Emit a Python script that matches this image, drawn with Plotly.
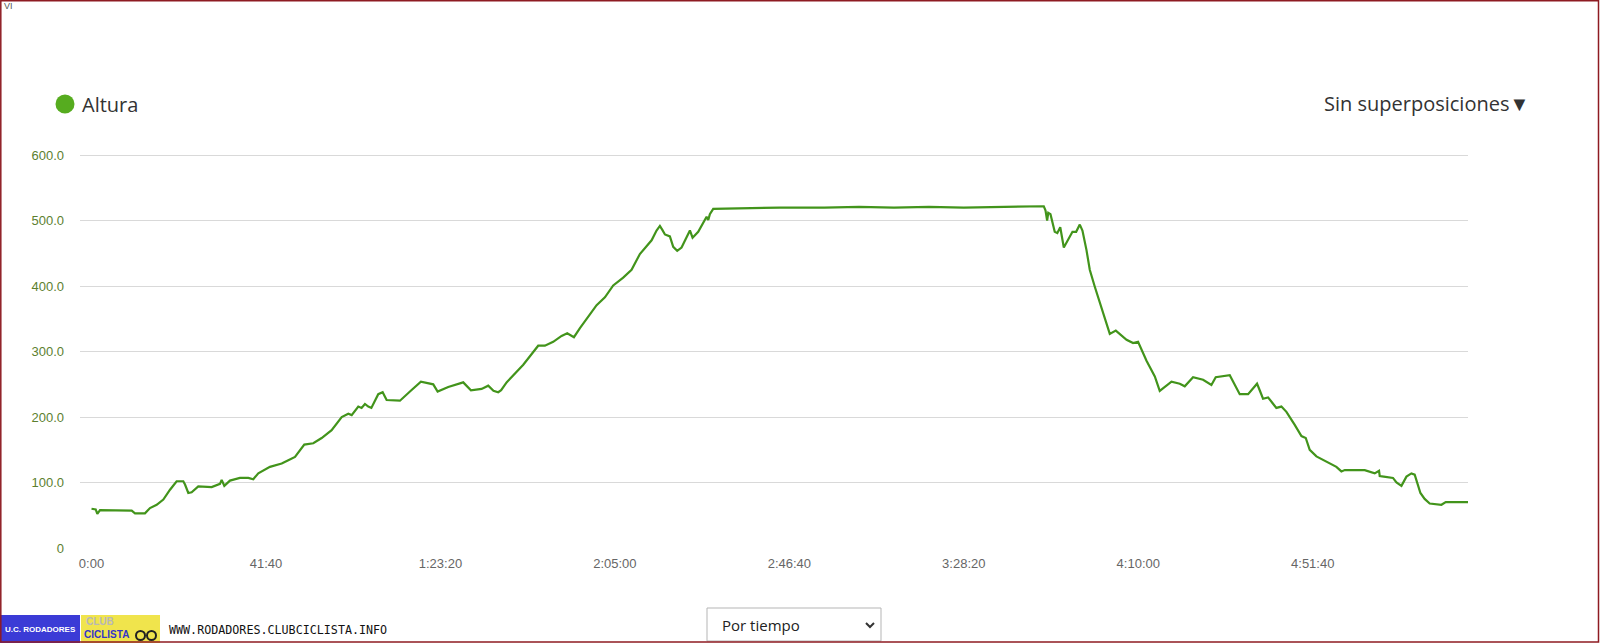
import plotly.graph_objects as go

# elevation profile (time in seconds, altitude in metres)
time_s = [0, 60, 83, 122, 576, 623, 766, 838, 934, 1029, 1125, 1220, 1315, 1340, 1387, 1435,
          1530, 1722, 1841, 1865, 1903, 1984, 2127, 2247, 2318, 2390, 2557, 2725, 2820, 2916,
          3049, 3178, 3298, 3441, 3585, 3680, 3728, 3823, 3870, 3918, 3966, 4010, 4109, 4172,
          4229, 4420, 4563, 4720, 4897, 4960, 5112, 5327, 5437, 5590, 5685, 5760, 5828, 5870,
          5948, 6187, 6401, 6497, 6616, 6736, 6817, 6913, 6999, 7142, 7238, 7357, 7476, 7619,
          7739, 7858, 7930, 8026, 8097, 8145, 8180, 8217, 8288, 8336, 8393, 8455, 8575, 8613,
          8694, 8814, 8838, 8861, 8909, 9338, 9864, 10500, 11000, 11500, 12000, 12500, 13000,
          13200, 13445, 13646, 13670, 13694, 13710, 13742, 13803, 13840, 13882, 13933, 14057,
          14110, 14162, 14200, 14258, 14305, 14377, 14473, 14592, 14678, 14760, 14832, 14926,
          14997, 15118, 15237, 15308, 15345, 15476, 15595, 15666, 15785, 15929, 16048, 16110,
          16311, 16382, 16454, 16574, 16702, 16740, 16788, 16860, 16932, 16979, 17051, 17123,
          17242, 17338, 17400, 17457, 17553, 17696, 17839, 17911, 17959, 18245, 18388, 18450,
          18460, 18518, 18650, 18700, 18771, 18843, 18914, 18961, 19043, 19104, 19176, 19344,
          19406, 19725]
altura = [60, 59, 52, 58, 57, 53, 53, 61, 66, 74, 89, 102, 102, 97, 84, 85,
          94, 93, 98, 104, 95, 103, 107, 107, 105, 114, 124, 129, 134, 139,
          158, 160, 168, 180, 200, 205, 203, 216, 214, 220, 216, 214, 235, 238,
          226, 225, 239, 254, 250, 239, 246, 253, 241, 243, 248, 240, 238, 241,
          253, 280, 309, 309, 315, 324, 328, 322, 336, 358, 371, 383, 401, 413,
          425, 449, 458, 470, 485, 492, 486, 479, 476, 460, 454, 459, 485, 474,
          483, 506, 501, 510, 518, 519, 520, 520, 521, 520, 521, 520, 521,
          522, 522, 522, 516, 500, 512, 510, 483, 481, 490, 459, 483,
          483, 494, 485, 455, 425, 399, 366, 327, 332, 324, 318, 313,
          315, 286, 262, 240, 243, 254, 251, 247, 261, 257, 249, 261,
          264, 249, 235, 235, 251, 241, 228, 230, 220, 214, 216, 208,
          188, 171, 168, 150, 140, 132, 124, 117, 119, 119, 114, 118,
          110, 109, 107, 100, 95, 109, 114, 112, 84, 75, 68, 66,
          70, 70]

x_tickvals = [0, 2500, 5000, 7500, 10000, 12500, 15000, 17500]
x_ticktext = ["0:00", "41:40", "1:23:20", "2:05:00", "2:46:40", "3:28:20", "4:10:00", "4:51:40"]
y_tickvals = [0, 100, 200, 300, 400, 500, 600]
y_ticktext = ["0", "100.0", "200.0", "300.0", "400.0", "500.0", "600.0"]

# plot area in pixels: x 80..1468, y 152..548
def px(x):
    return (x - 80) / 1388

def py(y):
    return (548 - y) / 396

fig = go.Figure()
fig.add_trace(go.Scatter(
    x=time_s, y=altura, mode="lines",
    line=dict(color="#42941b", width=2.2),
    name="Altura", showlegend=False
))

shapes = [
    # legend dot
    dict(type="circle", xref="paper", yref="paper",
         x0=px(55.5), x1=px(74.5), y0=py(113.5), y1=py(94.5),
         fillcolor="#56ac1f", line=dict(width=0)),
    # dropdown box
    dict(type="rect", xref="paper", yref="paper",
         x0=px(707), x1=px(881), y0=py(641), y1=py(608),
         line=dict(color="#b5b5b5", width=1), fillcolor="white"),
    dict(type="path", xref="paper", yref="paper",
         path="M %f %f L %f %f L %f %f" % (px(866), py(623), px(870), py(627), px(874), py(623)),
         line=dict(color="#333333", width=2)),
    # logo boxes
    dict(type="rect", xref="paper", yref="paper",
         x0=px(0), x1=px(80), y0=py(643), y1=py(615),
         fillcolor="#3b3bd6", line=dict(width=0)),
    dict(type="rect", xref="paper", yref="paper",
         x0=px(81), x1=px(160), y0=py(643), y1=py(615),
         fillcolor="#f0e44c", line=dict(width=0)),
    dict(type="circle", xref="paper", yref="paper",
         x0=px(136), x1=px(145), y0=py(640), y1=py(631),
         line=dict(color="#222222", width=2)),
    dict(type="circle", xref="paper", yref="paper",
         x0=px(147), x1=px(156), y0=py(640), y1=py(631),
         line=dict(color="#222222", width=2)),
    # outer border
    dict(type="rect", xref="paper", yref="paper",
         x0=px(0.8), x1=px(1598.5), y0=py(642), y1=py(0.8),
         line=dict(color="#8e1b22", width=1.5)),
]

annotations = [
    dict(text="Altura", x=px(80), y=py(104), xref="paper", yref="paper",
         xanchor="left", yanchor="middle", showarrow=False,
         font=dict(family="Open Sans", size=20, color="#333333")),
    dict(text="Sin superposiciones▼", x=px(1531), y=py(103), xref="paper", yref="paper",
         xanchor="right", yanchor="middle", showarrow=False,
         font=dict(family="Open Sans", size=20, color="#333333")),
    dict(text="VI", x=px(2), y=py(6), xref="paper", yref="paper",
         xanchor="left", yanchor="middle", showarrow=False,
         font=dict(family="Liberation Sans", size=9, color="#555555")),
    dict(text="Por tiempo", x=px(720), y=py(625), xref="paper", yref="paper",
         xanchor="left", yanchor="middle", showarrow=False,
         font=dict(family="Open Sans", size=15, color="#222222")),
    dict(text="<b>U.C. RODADORES</b>", x=px(40), y=py(629), xref="paper", yref="paper",
         xanchor="center", yanchor="middle", showarrow=False,
         font=dict(family="Liberation Sans", size=8, color="white")),
    dict(text="<b>CLUB</b>", x=px(84), y=py(621), xref="paper", yref="paper",
         xanchor="left", yanchor="middle", showarrow=False,
         font=dict(family="Liberation Sans", size=10, color="#b8b8b8")),
    dict(text="<b>CICLISTA</b>", x=px(82), y=py(634), xref="paper", yref="paper",
         xanchor="left", yanchor="middle", showarrow=False,
         font=dict(family="Liberation Sans", size=10, color="#3434c8")),
    dict(text="WWW.RODADORES.CLUBCICLISTA.INFO", x=px(167), y=py(630), xref="paper", yref="paper",
         xanchor="left", yanchor="middle", showarrow=False,
         font=dict(family="DejaVu Sans Mono", size=11.7, color="#111111")),
]

fig.update_layout(
    width=1600, height=643, autosize=False,
    margin=dict(l=80, r=132, t=152, b=95),
    paper_bgcolor="white", plot_bgcolor="white",
    showlegend=False,
    shapes=shapes,
    annotations=annotations,
    xaxis=dict(
        range=[-165, 19725],
        tickvals=x_tickvals, ticktext=x_ticktext,
        showgrid=False, zeroline=False, showline=False,
        ticklabelstandoff=6,
        tickfont=dict(family="Liberation Sans", size=13, color="#666666"),
    ),
    yaxis=dict(
        range=[0, 604.9],
        tickvals=y_tickvals, ticktext=y_ticktext,
        showgrid=True, gridcolor="#d9d9d9", gridwidth=1,
        zeroline=False, showline=False,
        ticklabelstandoff=15,
        tickfont=dict(family="Liberation Sans", size=13, color="#5c7f2f"),
    ),
)

fig.write_html("out.html", config={"displayModeBar": False},
               post_script="document.body.style.margin='0';")
